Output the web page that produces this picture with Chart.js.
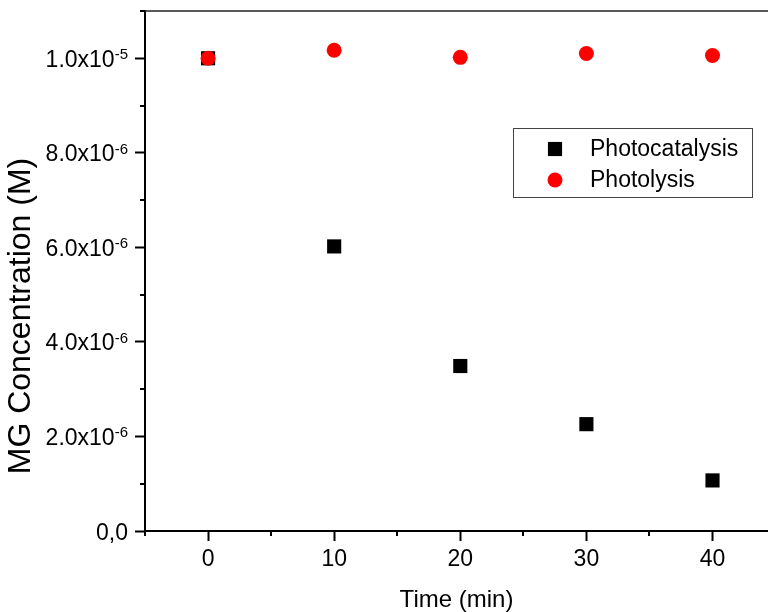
<!DOCTYPE html>
<html>
<head>
<meta charset="utf-8">
<title>MG Concentration vs Time</title>
<script src="https://cdn.jsdelivr.net/npm/chart.js@4.4.1/dist/chart.umd.min.js"></script>
<style>
  html, body { margin: 0; padding: 0; background: #fff; overflow: hidden; }
  #wrap { width: 768px; height: 612px; position: relative; }
</style>
</head>
<body>
<div id="wrap"><canvas id="mgChart"></canvas></div>
<script>
// Measured concentrations (M) at each sampling time (min)
const times = [0, 10, 20, 30, 40];
const photocatalysis = [1.0e-5, 6.02e-6, 3.49e-6, 2.26e-6, 1.07e-6];
const photolysis = [1.0e-5, 1.017e-5, 1.002e-5, 1.01e-5, 1.006e-5];

const xTicks = [0, 10, 20, 30, 40];
const xMinorTicks = [-5, 5, 15, 25, 35];
const yTicks = [0, 2e-6, 4e-6, 6e-6, 8e-6, 1e-5];
const yTickBase = ['0,0', '2.0x10', '4.0x10', '6.0x10', '8.0x10', '1.0x10'];
const yTickExp = ['', '-6', '-6', '-6', '-6', '-5'];
const yMinorTicks = [1e-6, 3e-6, 5e-6, 7e-6, 9e-6, 1.1e-5];

const FONT = "'Liberation Sans', Arial, sans-serif";

function toPoints(values) {
    return times.map((t, i) => ({ x: t, y: values[i] }));
}

function drawMarker(ctx, style, r, color, cx, cy) {
    ctx.fillStyle = color;
    ctx.beginPath();
    if (style === 'rect') {
        const s = Math.SQRT1_2 * r;
        ctx.rect(cx - s, cy - s, 2 * s, 2 * s);
    } else {
        ctx.arc(cx, cy, r, 0, Math.PI * 2);
    }
    ctx.fill();
}

// Frame extras: top border, minor ticks, superscript y labels, y title, legend
const framePlugin = {
    id: 'framePlugin',
    afterDraw(chart) {
        const { ctx, chartArea: area, scales: { x, y } } = chart;
        ctx.save();

        ctx.strokeStyle = '#222';
        ctx.lineWidth = 1.5;
        ctx.beginPath();
        ctx.moveTo(area.left, area.top);
        ctx.lineTo(area.right, area.top);
        ctx.stroke();

        ctx.strokeStyle = '#000';
        ctx.lineWidth = 2;
        ctx.beginPath();
        xMinorTicks.forEach(v => {
            const px = Math.round(x.getPixelForValue(v));
            ctx.moveTo(px, area.bottom);
            ctx.lineTo(px, area.bottom + 5);
        });
        yMinorTicks.forEach(v => {
            const py = Math.round(y.getPixelForValue(v));
            ctx.moveTo(area.left, py);
            ctx.lineTo(area.left - 5, py);
        });
        ctx.stroke();

        // y tick labels with exponent
        ctx.fillStyle = '#000';
        ctx.textAlign = 'right';
        ctx.textBaseline = 'alphabetic';
        const right = area.left - 17;
        yTicks.forEach((v, i) => {
            const py = y.getPixelForValue(v);
            let w = 0;
            if (yTickExp[i]) {
                ctx.font = `15px ${FONT}`;
                ctx.fillText(yTickExp[i], right, py + 1);
                w = ctx.measureText(yTickExp[i]).width;
            }
            ctx.font = `23px ${FONT}`;
            ctx.fillText(yTickBase[i], right - w, py + 8.5);
        });

        // y axis title
        ctx.save();
        ctx.translate(21, 316);
        ctx.rotate(-Math.PI / 2);
        ctx.textAlign = 'center';
        ctx.textBaseline = 'middle';
        ctx.font = `32px ${FONT}`;
        ctx.fillText('MG Concentration (M)', 0, 0);
        ctx.restore();

        // legend box
        ctx.strokeStyle = '#444';
        ctx.lineWidth = 1;
        ctx.strokeRect(513.5, 128.5, 239, 69);
        const rows = [149, 180];
        ctx.textAlign = 'left';
        ctx.textBaseline = 'middle';
        ctx.font = `23px ${FONT}`;
        chart.data.datasets.forEach((ds, i) => {
            drawMarker(ctx, ds.pointStyle, ds.pointRadius, ds.backgroundColor, 555, rows[i]);
            ctx.fillStyle = '#000';
            ctx.fillText(ds.label, 590, rows[i] + 1);
        });

        ctx.restore();
    }
};

const axisGrid = {
    display: true,
    drawOnChartArea: false,
    drawTicks: true,
    tickLength: 10,
    tickWidth: 2,
    tickColor: '#000'
};
const axisBorder = { display: true, color: '#000', width: 2 };

new Chart(document.getElementById('mgChart'), {
    type: 'scatter',
    data: {
        datasets: [{
            label: 'Photocatalysis',
            data: toPoints(photocatalysis),
            pointStyle: 'rect',
            pointRadius: 10,
            backgroundColor: '#000',
            borderWidth: 0,
            order: 2
        }, {
            label: 'Photolysis',
            data: toPoints(photolysis),
            pointStyle: 'circle',
            pointRadius: 7.5,
            backgroundColor: '#ff0000',
            borderWidth: 0,
            order: 1
        }]
    },
    options: {
        responsive: true,
        maintainAspectRatio: false,
        animation: false,
        layout: {
            autoPadding: false,
            padding: { top: 11, right: 0, left: 0, bottom: 0 }
        },
        plugins: {
            legend: { display: false },
            tooltip: { enabled: false }
        },
        scales: {
            x: {
                type: 'linear',
                min: -5,
                max: 44.4,
                afterBuildTicks: scale => { scale.ticks = xTicks.map(v => ({ value: v })); },
                afterFit: scale => {
                    scale.height = 81;
                    scale.paddingLeft = 0;
                    scale.paddingRight = 0;
                },
                grid: axisGrid,
                border: axisBorder,
                ticks: {
                    color: '#000',
                    padding: 5,
                    maxRotation: 0,
                    font: { family: FONT, size: 23 },
                    callback: v => String(v)
                },
                title: {
                    display: true,
                    text: 'Time (min)',
                    color: '#000',
                    padding: 0,
                    font: { family: FONT, size: 24, lineHeight: 1 }
                }
            },
            y: {
                type: 'linear',
                min: 0,
                max: 1.1e-5,
                afterBuildTicks: scale => { scale.ticks = yTicks.map(v => ({ value: v })); },
                afterFit: scale => {
                    scale.width = 145;
                    scale.paddingTop = 0;
                    scale.paddingBottom = 0;
                },
                grid: axisGrid,
                border: axisBorder,
                ticks: { display: false }
            }
        }
    },
    plugins: [framePlugin]
});
</script>
</body>
</html>
